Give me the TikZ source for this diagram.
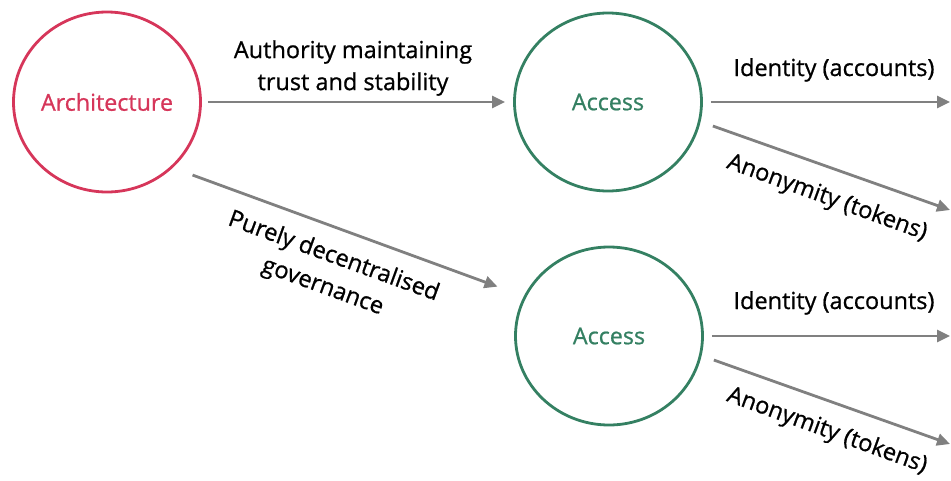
\documentclass[tikz,border=0pt]{standalone}
\usepackage{fontspec}
\setmainfont{Open Sans}[UprightFeatures={FakeBold=0.8}]
\usetikzlibrary{arrows.meta,shapes.geometric}
\definecolor{archred}{RGB}{214,54,90}
\definecolor{accgreen}{RGB}{52,128,98}
\definecolor{arrowgray}{RGB}{128,128,128}
\begin{document}
\begin{tikzpicture}[x=1pt,y=-1pt,
  lbl/.style={font=\fontsize{23.5}{32}\selectfont, text=black, inner sep=0pt, align=center},
  archnode/.style={ellipse, draw=archred, line width=2.8pt, inner sep=0pt,
    minimum width=187pt, minimum height=180pt, text=archred, font=\fontsize{23.3}{26}\selectfont},
  accnode/.style={ellipse, draw=accgreen, line width=2.8pt, inner sep=0pt,
    minimum width=187pt, minimum height=178pt, text=accgreen, font=\fontsize{23.3}{26}\selectfont},
  conn/.style={draw=arrowgray, line width=2.8pt, -{Triangle[length=13pt,width=12pt]}}
]
\useasboundingbox (0,0) rectangle (951,480);
\node[archnode] (arch) at (107,102) {Architecture};
\node[accnode] (acc1) at (608,102) {Access};
\node[accnode] (acc2) at (609,336) {Access};
\coordinate (e1) at (950,102);
\coordinate (e2) at (950,210);
\coordinate (e3) at (950,336);
\coordinate (e4) at (950,444);
\draw[conn, shorten <=6pt, shorten >=8pt] (arch) -- (acc1);
\draw[conn, shorten <=21pt, shorten >=28pt] (arch.-45) -- (acc2.155);
\draw[conn, shorten <=8pt] (acc1) -- (e1);
\draw[conn, shorten <=13pt] (acc1.-12) -- (e2);
\draw[conn, shorten <=8pt] (acc2) -- (e3);
\draw[conn, shorten <=13pt] (acc2.-12) -- (e4);
\node[lbl] (l1) at (353,68) {Authority maintaining\\trust and stability};
\node[lbl, rotate=-20] (l2) at (328,272) {Purely decentralised\\governance};
\node[lbl, anchor=base] (l3) at (834,76) {Identity (accounts)};
\node[lbl, rotate=-20] (l4) at (827,198) {Anonymity (tokens)};
\node[lbl, anchor=base] (l5) at (834,309) {Identity (accounts)};
\node[lbl, rotate=-20] (l6) at (827,431) {Anonymity (tokens)};
\end{tikzpicture}
\end{document}
